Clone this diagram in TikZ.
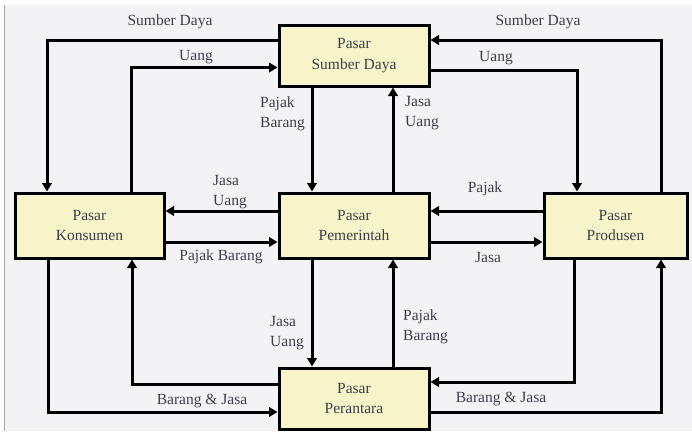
\documentclass[tikz,border=0pt]{standalone}
\usepackage{fontspec}
\setmainfont{Liberation Serif}
\usetikzlibrary{arrows.meta}
\definecolor{bgpanel}{RGB}{243,243,246}
\definecolor{boxfill}{RGB}{246,244,200}
\definecolor{inkgray}{RGB}{62,62,74}
\begin{document}
\begin{tikzpicture}[x=1pt,y=-1pt,
  market/.style={draw=black, line width=3pt, fill=boxfill, rectangle,
    inner sep=0pt, text=inkgray, align=center,
    font=\fontsize{15.5}{20.5}\selectfont},
  flow/.style={line width=3pt, -{Triangle[length=8.5pt,width=9.5pt]}},
  tag/.style={text=inkgray, inner sep=0pt, align=left,
    font=\fontsize{15.5}{20.5}\selectfont}]
% canvas
\fill[white] (0,0) rectangle (692,431);
\fill[bgpanel] (5,5) rectangle (692,431);
\draw[gray!70, line width=1pt] (4.5,5) -- (4.5,431);
\useasboundingbox (0,0) rectangle (692,431);

% markets
\node[market, minimum width=150pt, minimum height=61pt] (S) at (354,55.5) {Pasar\\Sumber Daya};
\node[market, minimum width=149pt, minimum height=65pt] (K) at (89.5,225.5) {Pasar\\Konsumen};
\node[market, minimum width=150pt, minimum height=65pt] (G) at (354,225.5) {Pasar\\Pemerintah};
\node[market, minimum width=143pt, minimum height=65pt] (P) at (615.5,225.5) {Pasar\\Produsen};
\node[market, minimum width=150pt, minimum height=61pt] (T) at (354,398.5) {Pasar\\Perantara};

% flows around the resource market
\draw[flow] ([yshift=15.5pt]S.west) -| ([xshift=-42.5pt]K.north);
\draw[flow] ([xshift=41.5pt]K.north) |- ([yshift=-12pt]S.west);
\draw[flow] ([xshift=-42pt]S.south) -- ([xshift=-42pt]G.north);
\draw[flow] ([xshift=39pt]G.north) -- ([xshift=39pt]S.south);
\draw[flow] ([yshift=-14.5pt]S.east) -| ([xshift=-38.5pt]P.north);
\draw[flow] ([xshift=45.5pt]P.north) |- ([yshift=15.5pt]S.east);

% flows through the government market
\draw[flow] ([yshift=14.5pt]G.west) -- ([yshift=14.5pt]K.east);
\draw[flow] ([yshift=-16.5pt]K.east) -- ([yshift=-16.5pt]G.west);
\draw[flow] ([yshift=14.5pt]P.west) -- ([yshift=14.5pt]G.east);
\draw[flow] ([yshift=-16.5pt]G.east) -- ([yshift=-16.5pt]P.west);
\draw[flow] ([xshift=-42pt]G.south) -- ([xshift=-42pt]T.north);
\draw[flow] ([xshift=39pt]T.north) -- ([xshift=39pt]G.south);

% flows around the intermediary market
\draw[flow] ([yshift=14.5pt]T.west) -| ([xshift=42.5pt]K.south);
\draw[flow] ([xshift=-41.5pt]K.south) |- ([yshift=-13.5pt]T.west);
\draw[flow] ([xshift=-41.5pt]P.south) |- ([yshift=16.5pt]T.east);
\draw[flow] ([yshift=-13.5pt]T.east) -| ([xshift=45.5pt]P.south);

% flow labels
\node[tag] (l1) at (170,22) {Sumber Daya};
\node[tag] (l2) at (196,57) {Uang};
\node[tag, anchor=west] (l3) at (260,114) {Pajak\\Barang};
\node[tag, anchor=west] (l4) at (405,113) {Jasa\\Uang};
\node[tag] (l5) at (496,58) {Uang};
\node[tag] (l6) at (538,22) {Sumber Daya};
\node[tag, anchor=west] (l7) at (213,192) {Jasa\\Uang};
\node[tag] (l8) at (221,257) {Pajak Barang};
\node[tag] (l9) at (485,189) {Pajak};
\node[tag] (l10) at (488,257) {Jasa};
\node[tag, anchor=west] (l11) at (270,333) {Jasa\\Uang};
\node[tag, anchor=west] (l12) at (403,327) {Pajak\\Barang};
\node[tag] (l13) at (202,401) {Barang \& Jasa};
\node[tag] (l14) at (501,399) {Barang \& Jasa};
\end{tikzpicture}
\end{document}
